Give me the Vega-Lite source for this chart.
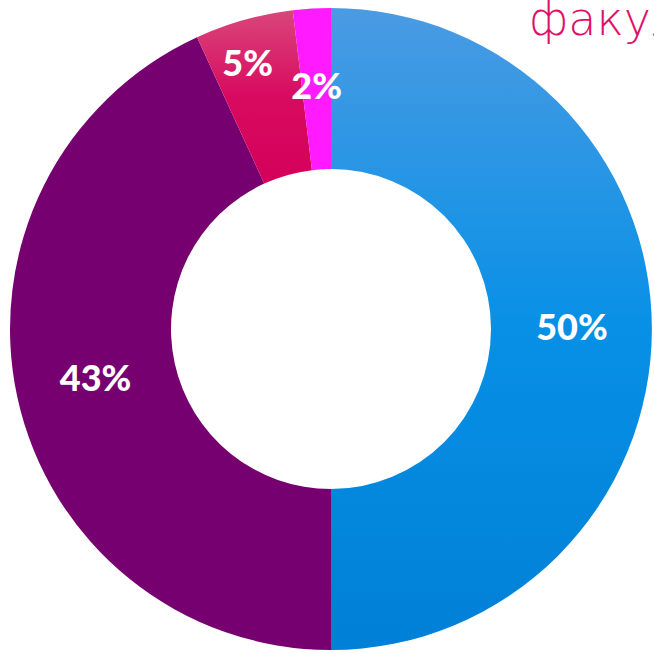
{
  "$schema": "https://vega.github.io/schema/vega-lite/v6.json",
  "width": 644,
  "height": 642,
  "autosize": {"type": "none"},
  "padding": {"left": 9, "top": 8, "right": 1, "bottom": 3},
  "background": "white",
  "title": {
    "text": "факультет",
    "anchor": "start",
    "frame": "group",
    "orient": "top",
    "baseline": "alphabetic",
    "offset": -30,
    "dx": 520,
    "dy": 43,
    "fontSize": 46,
    "font": "DejaVu Sans ExtraLight, DejaVu Sans",
    "fontWeight": 200,
    "color": "#e0106a"
  },
  "data": {
    "values": [
      {"k": "A", "value": 50, "label": "50%"},
      {"k": "B", "value": 43.15, "label": "43%"},
      {"k": "C", "value": 4.95, "label": "5%"},
      {"k": "D", "value": 1.9, "label": "2%"}
    ]
  },
  "encoding": {
    "theta": {"field": "value", "type": "quantitative", "stack": true, "sort": null},
    "order": {"field": "k", "type": "nominal"}
  },
  "layer": [
    {
      "mark": {"type": "arc", "innerRadius": 160, "outerRadius": 321, "strokeWidth": 0},
      "encoding": {
        "fill": {
          "condition": [
            {"test": "datum.k === 'A'", "value": {"gradient": "linear", "x1": 0, "y1": 0, "x2": 0, "y2": 1, "stops": [{"offset": 0, "color": "#4a9be3"}, {"offset": 0.5, "color": "#0790e6"}, {"offset": 1, "color": "#0080d6"}]}},
            {"test": "datum.k === 'B'", "value": "#770070"},
            {"test": "datum.k === 'C'", "value": {"gradient": "linear", "x1": 0, "y1": 0, "x2": 0, "y2": 1, "stops": [{"offset": 0, "color": "#d9467a"}, {"offset": 0.5, "color": "#d80a60"}, {"offset": 1, "color": "#d4005a"}]}}
          ],
          "value": "#ff1aff"
        }
      }
    },
    {
      "mark": {"type": "text", "radius": 241, "font": "Lato", "fontWeight": 900, "fontSize": 36, "fill": "white"},
      "encoding": {
        "text": {"condition": {"test": "datum.k !== 'C'", "field": "label"}, "value": ""}
      }
    },
    {
      "mark": {"type": "text", "radius": 274, "font": "Lato", "fontWeight": 900, "fontSize": 36, "fill": "white", "dx": -9},
      "encoding": {
        "text": {"condition": {"test": "datum.k === 'C'", "field": "label"}, "value": ""}
      }
    }
  ]
}
